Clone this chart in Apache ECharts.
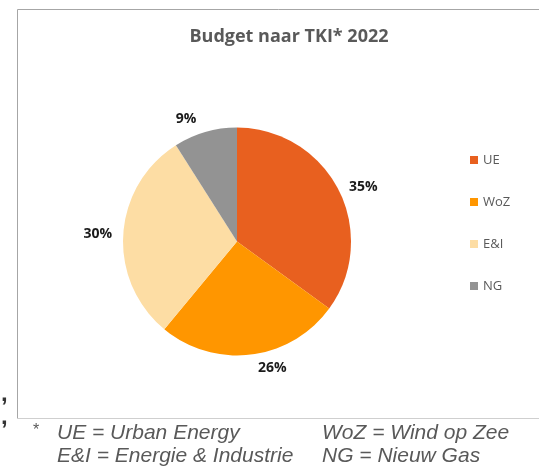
<!DOCTYPE html>
<html>
<head>
<meta charset="utf-8">
<script src="https://cdn.jsdelivr.net/npm/echarts@6/dist/echarts.min.js"></script>
<style>
  html, body { margin: 0; padding: 0; background: #fff; }
  #chart { width: 539px; height: 466px; }
</style>
</head>
<body>
<div id="chart"></div>
<script>
// budget share per TKI, in percent
const categories = ["UE", "WoZ", "E&I", "NG"];
const shares = [35, 26, 30, 9];
const sliceColors = ["#E8601F", "#FF9600", "#FDDDA4", "#939393"];
// label reach per slice (top/bottom labels sit a bit further out, like Excel)
const labelReach = [6, 14, 6, 14];

const footLeft = ["UE = Urban Energy", "E&I = Energie & Industrie"];
const footRight = ["WoZ = Wind op Zee", "NG = Nieuw Gas"];

const chart = echarts.init(document.getElementById("chart"));

const footFont = 'italic 21px "Liberation Sans", Arial, sans-serif';
const footTexts = [];
footLeft.forEach((t, i) => {
    footTexts.push({
        type: "text",
        style: { text: t, x: 57, y: 433.5 + i * 23, font: footFont, fill: "#595959", verticalAlign: "middle" },
    });
});
footRight.forEach((t, i) => {
    footTexts.push({
        type: "text",
        style: { text: t, x: 322, y: 433.5 + i * 23, font: footFont, fill: "#595959", verticalAlign: "middle" },
    });
});

const option = {
    animation: false,
    title: {
        text: "Budget naar TKI* 2022",
        left: 289,
        top: 28,
        textAlign: "center",
        padding: 0,
        textStyle: {
            fontFamily: "Open Sans",
            fontWeight: "bold",
            fontSize: 18,
            color: "#595959",
        },
    },
    legend: {
        orient: "vertical",
        left: 470,
        top: 153,
        icon: "rect",
        itemWidth: 8,
        itemHeight: 8,
        itemGap: 28,
        padding: 0,
        textStyle: { fontFamily: "Open Sans", fontSize: 13, color: "#595959", lineHeight: 14 },
        data: categories,
    },
    graphic: [
        {
            type: "rect",
            shape: { x: 17.5, y: 9.5, width: 600, height: 409 },
            style: { fill: "none", stroke: "#A6A6A6", lineWidth: 1 },
            silent: true,
        },
        {
            type: "line",
            shape: { x1: 17, y1: 418.5, x2: 539, y2: 418.5 },
            style: { stroke: "#CFCFCF", lineWidth: 1 },
            silent: true,
        },
        {
            type: "text",
            style: { text: "*", x: 33, y: 431, font: '16px "Liberation Sans", Arial', fill: "#595959", verticalAlign: "middle" },
        },
        {
            type: "text",
            style: { text: ",", x: 1, y: 394, font: 'bold 24px "Liberation Sans", Arial', fill: "#333", verticalAlign: "middle" },
        },
        {
            type: "text",
            style: { text: ",", x: 1, y: 417, font: 'bold 24px "Liberation Sans", Arial', fill: "#333", verticalAlign: "middle" },
        },
        ...footTexts,
    ],
    series: [
        {
            type: "pie",
            center: [237, 241.5],
            radius: 114,
            startAngle: 90,
            clockwise: true,
            avoidLabelOverlap: false,
            label: {
                show: true,
                position: "outside",
                formatter: "{c}%",
                fontFamily: "Open Sans",
                fontWeight: "bold",
                fontSize: 14,
                color: "#1a1a1a",
            },
            labelLine: { show: false, length: 6, length2: 0 },
            emphasis: { disabled: true },
            itemStyle: { borderWidth: 0 },
            data: categories.map((name, i) => ({
                name: name,
                value: shares[i],
                itemStyle: { color: sliceColors[i] },
                labelLine: { show: false, length: labelReach[i], length2: 0 },
            })),
        },
    ],
};

chart.setOption(option);
</script>
</body>
</html>
